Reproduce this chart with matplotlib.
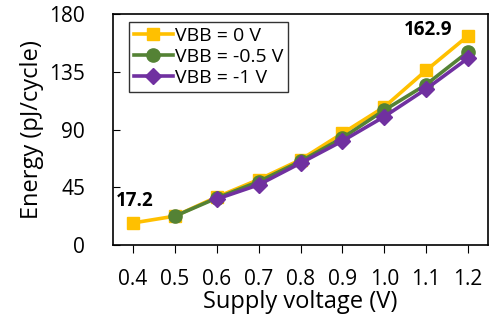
import matplotlib.pyplot as plt

voltage = [0.4, 0.5, 0.6, 0.7, 0.8, 0.9, 1.0, 1.1, 1.2]
vbb0 = [17.2, 22.5, 37.4, 51.0, 66.4, 87.0, 107.5, 136.0, 162.9]
vbb05_v = voltage[1:]
vbb05 = [22.5, 36.6, 49.4, 65.2, 83.4, 105.0, 125.0, 150.5]
vbb1_v = voltage[2:]
vbb1 = [35.8, 46.9, 63.8, 81.0, 100.0, 121.5, 145.5]

plt.rcParams['font.family'] = ['Open Sans', 'DejaVu Sans']

fig = plt.figure(figsize=(4.9, 3.35), dpi=100)
ax = fig.add_axes([113 / 490, 1 - 245 / 335, 375 / 490, 231 / 335])

ax.plot(voltage, vbb0, color='#FFC000', marker='s', ms=9, lw=2.6, label='VBB = 0 V')
ax.plot(vbb05_v, vbb05, color='#548235', marker='o', ms=9.5, lw=2.6, label='VBB = -0.5 V')
ax.plot(vbb1_v, vbb1, color='#7030A0', marker='D', ms=8, lw=2.6, label='VBB = -1 V')

ax.set_xlim(0.352, 1.248)
ax.set_ylim(0, 180)
ax.set_xticks(voltage)
ax.set_xticklabels([f'{v:.1f}' for v in voltage])
ax.set_yticks([0, 45, 90, 135, 180])
ax.tick_params(axis='y', labelsize=15, direction='in', length=5, pad=20)
ax.tick_params(axis='x', labelsize=15, direction='out', length=6, pad=11)
ax.set_xlabel('Supply voltage (V)', fontsize=17, labelpad=0)
ax.set_ylabel('Energy (pJ/cycle)', fontsize=17, labelpad=4)
for s in ax.spines.values():
    s.set_linewidth(1.2)

ax.text(voltage[0] + 0.005, vbb0[0] + 9, f'{vbb0[0]}', fontsize=13.5, fontweight='bold',
        ha='center', va='bottom')
ax.text(voltage[-1] - 0.037, vbb0[-1] + 5, f'{vbb0[-1]}', fontsize=13.5, fontweight='bold',
        ha='right', va='center')

leg = ax.legend(loc='upper left', bbox_to_anchor=(16 / 375, 1 - 8 / 231),
                fontsize=14, frameon=True, fancybox=False,
                edgecolor='black', borderaxespad=0, handlelength=2.0,
                handletextpad=0.1, labelspacing=0.15, borderpad=0.25)
leg.get_frame().set_linewidth(1.0)

fig.savefig('out.png', dpi=100)
